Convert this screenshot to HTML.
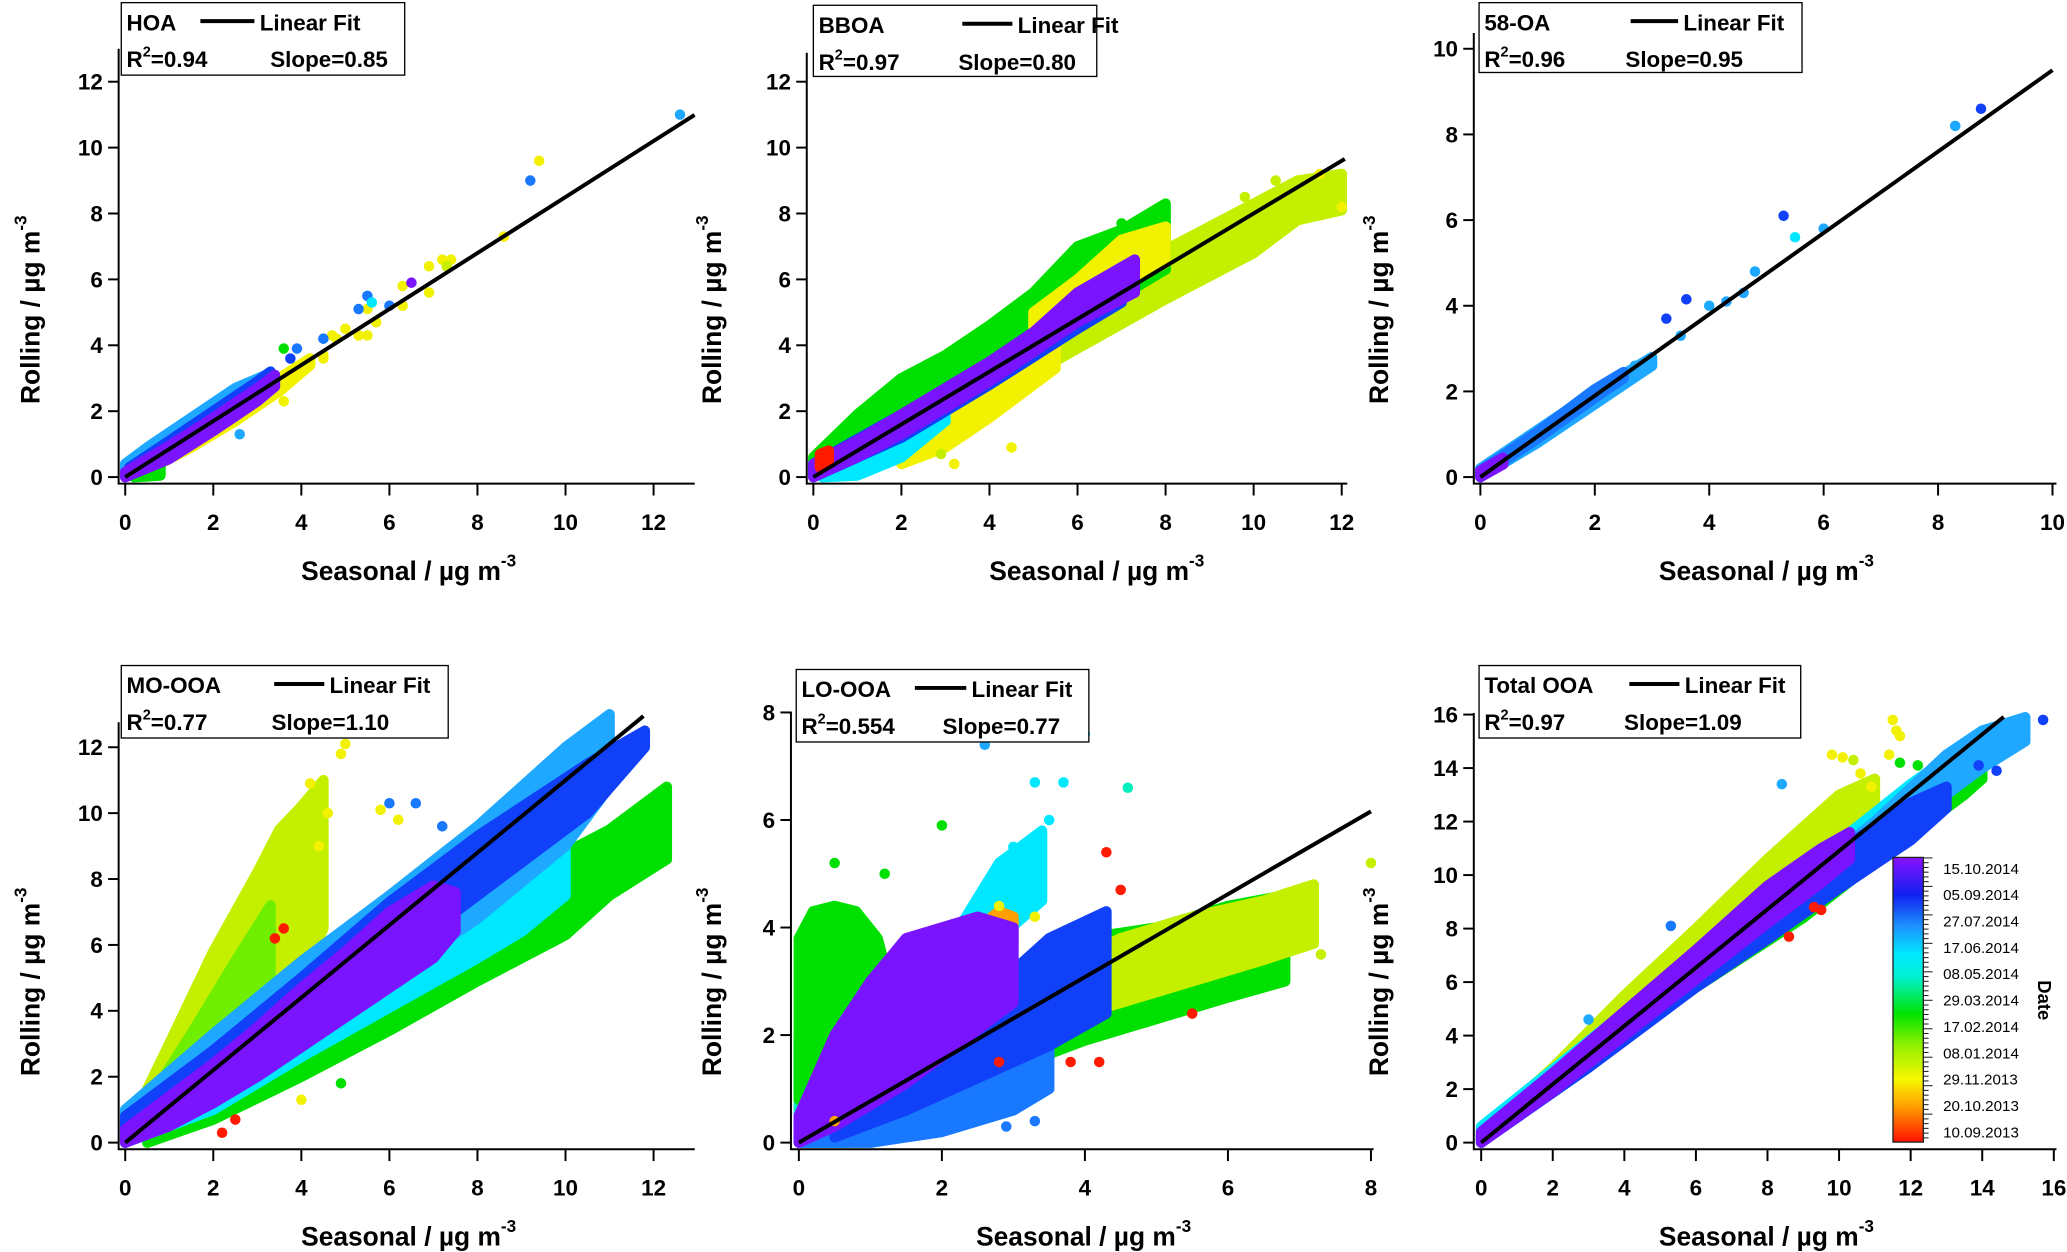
<!DOCTYPE html>
<html><head><meta charset="utf-8"><title>Rolling vs Seasonal</title>
<style>
html,body{margin:0;padding:0;background:#fff;}
svg{display:block;font-family:"Liberation Sans",Arial,sans-serif;}
</style></head>
<body>
<svg id="chart" width="2067" height="1252" viewBox="0 0 1568 950" preserveAspectRatio="none" xmlns="http://www.w3.org/2000/svg">
<defs>
<linearGradient id="cbar" x1="0" y1="1" x2="0" y2="0">
<stop offset="0" stop-color="#ff1000"/>
<stop offset="0.12" stop-color="#ff9a00"/>
<stop offset="0.22" stop-color="#f8f800"/>
<stop offset="0.34" stop-color="#90f000"/>
<stop offset="0.45" stop-color="#00e400"/>
<stop offset="0.58" stop-color="#00f0d0"/>
<stop offset="0.66" stop-color="#00e8ff"/>
<stop offset="0.76" stop-color="#1e90ff"/>
<stop offset="0.87" stop-color="#1020f0"/>
<stop offset="1" stop-color="#8a10ff"/>
</linearGradient>
</defs>
<g id="root"></g>
</svg>
<script>
// palette
const COL = {red:'#ff1a00',orange:'#ffa000',yellow:'#f2f200',ygreen:'#c4f000',lgreen:'#70ee00',green:'#00e000',teal:'#00f0c0',cyan:'#00e8ff',lblue:'#1ea8ff',mblue:'#1878ff',blue:'#1040f8',purple:'#7a14ff'};

// ---------- HOA ----------
const hoaXTicks = [0,2,4,6,8,10,12];
const hoaYTicks = [0,2,4,6,8,10,12];
const hoaBandColors = ['yellow','green','lblue','blue','purple'];
const hoaBandX  = [[0.5,1.5,2.5,3.5,4.2],[0.2,0.8],[0,0.5,1.5,2.5,3.2],[0.1,1,2,3,3.3],[0,1,2,3,3.4]];
const hoaBandLo = [[0.2,0.9,1.7,2.6,3.4],[0,0.05],[0,0.3,1.1,2.0,2.7],[0.05,0.8,1.6,2.5,2.8],[0,0.55,1.4,2.3,2.75]];
const hoaBandHi = [[0.5,1.3,2.2,3.0,3.6],[0.2,0.6],[0.4,0.9,1.8,2.7,3.1],[0.3,1.1,2.0,2.9,3.2],[0.15,0.95,1.8,2.7,3.1]];
const hoaPtX = [4.2,4.5,4.8,5.0,5.3,5.7,6.3,6.9,7.2,7.4,7.3,6.9,6.3,9.4,8.6,5.5,5.5,4.5,3.6,4.7,9.2,5.5,5.3,6.0,4.5,3.9,3.75,12.6,2.6,5.6,6.5,3.6];
const hoaPtY = [3.5,3.7,4.2,4.5,4.3,4.7,5.8,6.4,6.6,6.6,6.4,5.6,5.2,9.6,7.3,4.3,5.1,3.6,2.3,4.3,9.0,5.5,5.1,5.2,4.2,3.9,3.6,11.0,1.3,5.3,5.9,3.9];
const hoaPtC = ['yellow','yellow','yellow','yellow','yellow','yellow','yellow','yellow','yellow','yellow','ygreen','yellow','yellow','yellow','yellow','yellow','yellow','yellow','yellow','yellow','mblue','mblue','mblue','mblue','mblue','mblue','blue','lblue','lblue','cyan','purple','green'];

// ---------- BBOA ----------
const bbXTicks = [0,2,4,6,8,10,12];
const bbYTicks = [0,2,4,6,8,10,12];
const bbBandColors = ['ygreen','yellow','green','cyan','yellow','blue','purple','red'];
const bbBandX  = [[1,2,4,6,8,10,11,12],[2,3,4,5.5],[0,1,2,3,4,5,6,7,8],[0.2,1,2,3],[5,6,7,8],[0,2,4,6,7],[0,1,2,3,4,5,6,7.3],[0.15,0.35]];
const bbBandLo = [[0.4,0.9,2.4,3.9,5.4,6.8,7.8,8.1],[0.4,0.9,1.8,3.3],[0,0.8,1.6,2.3,3.0,3.8,4.7,5.5,6.3],[0,0.05,0.6,1.7],[4.0,4.8,5.8,6.5],[0,1.2,2.8,4.5,5.3],[0,0.6,1.3,2.1,2.9,3.8,4.7,5.6],[0.3,0.4]];
const bbBandHi = [[1.2,2.0,3.7,5.3,6.9,8.3,9.0,9.2],[1.3,2.2,3.0,4.5],[0.6,1.9,3.0,3.7,4.6,5.6,7.0,7.5,8.3],[0.5,1.0,1.7,2.6],[5.0,6.0,7.2,7.6],[0.4,1.9,3.5,5.3,6.2],[0.4,1.1,1.9,2.7,3.5,4.4,5.6,6.6],[0.7,0.8]];
const bbPtX = [7.0,6.4,11.5,12.0,11.8,10.5,9.8,0.8,2.0,3.2,4.5,2.9];
const bbPtY = [7.7,7.2,9.2,8.2,8.9,9.0,8.5,0.1,0.8,0.4,0.9,0.7];
const bbPtC = ['green','green','yellow','yellow','ygreen','ygreen','ygreen','cyan','cyan','yellow','yellow','ygreen'];

// ---------- 58-OA ----------
const ooXTicks = [0,2,4,6,8,10];
const ooYTicks = [0,2,4,6,8,10];
const ooBandColors = ['lblue','mblue','purple'];
const ooBandX  = [[0,1,2,3],[0,1,2,2.5],[0,0.4]];
const ooBandLo = [[0,0.8,1.7,2.6],[0,0.9,1.85,2.3],[0,0.3]];
const ooBandHi = [[0.2,1.1,2.0,2.8],[0.15,1.05,2.05,2.45],[0.15,0.45]];
const ooPtX = [3.25,3.6,4.0,4.3,4.6,4.8,5.3,5.5,6.0,8.3,8.75,3.5,2.7,2.9];
const ooPtY = [3.7,4.15,4.0,4.1,4.3,4.8,6.1,5.6,5.8,8.2,8.6,3.3,2.6,2.7];
const ooPtC = ['blue','blue','lblue','lblue','lblue','lblue','blue','cyan','lblue','lblue','blue','lblue','lblue','lblue'];

// ---------- MO-OOA ----------
const moXTicks = [0,2,4,6,8,10,12];
const moYTicks = [0,2,4,6,8,10,12];
const moBandColors = ['ygreen','lgreen','green','cyan','lblue','blue','purple'];
const moBandX  = [[0.2,1,2,3,3.5,4,4.5],[0.5,1.5,2.5,3.3],[0.5,2,4,6,8,10,11,12.3],[0,2,4,6,8,9,10],[0,2,4,6,8,10,11],[0,2,4,6,8,10.5,11.8],[0,1,2,3,4,5,6,7,7.5]];
const moBandLo = [[0.1,0.9,2.0,3.2,4.0,5.0,6.5],[0.4,1.4,2.6,3.6],[0,0.7,2,3.4,4.9,6.3,7.5,8.6],[0,1,2.6,4.1,5.6,6.4,7.5],[0,1.5,3.2,5,6.8,9,10.8],[0,1.5,3.5,5.5,7.5,10,12],[0,0.5,1.2,2.0,2.9,3.8,4.7,5.6,6.4]];
const moBandHi = [[0.8,3.0,5.8,8.2,9.5,10.2,11.0],[1.2,3.3,5.5,7.2],[0.6,2.0,3.6,5.4,7.2,8.8,9.5,10.8],[0.8,2.7,4.8,6.6,8.3,9,10],[1,3.3,5.5,7.5,9.6,12.0,13.0],[0.8,2.8,5,7.3,9.3,11.5,12.5],[0.4,1.4,2.4,3.5,4.7,5.8,7.0,7.8,7.6]];
const moPtX = [4.6,5.0,4.9,4.4,5.8,6.2,6.0,6.6,7.2,2.5,3.6,3.4,2.2,4.9,12.3,4.0,4.2,3.8];
const moPtY = [10.0,12.1,11.8,9.0,10.1,9.8,10.3,10.3,9.6,0.7,6.5,6.2,0.3,1.8,10.5,1.3,10.9,9.8];
const moPtC = ['yellow','yellow','yellow','yellow','yellow','yellow','mblue','mblue','mblue','red','red','red','red','green','green','yellow','yellow','ygreen'];

// ---------- LO-OOA ----------
const loXTicks = [0,2,4,6,8];
const loYTicks = [0,2,4,6,8];
const loBandColors = ['teal','green','green','ygreen','mblue','cyan','orange','blue','purple'];
const loBandX  = [[0,0.3,0.6,1,1.5],[0,0.2,0.5,0.8,1.1,1.3],[2.3,3,4,5,6,6.8],[3.5,4.5,5.5,6.5,7.2],[0,1,2,3,3.5],[2.2,2.8,3.4],[2.5,2.8,3.0],[0.5,1.5,2.5,3.5,4.3],[0,0.5,1,1.5,2,2.5,3]];
const loBandLo = [[0,0,0,0.3,0.6],[0.8,0.8,1.0,1.3,1.6,1.9],[0.9,1.4,1.9,2.3,2.7,3.0],[2.2,2.6,3.0,3.4,3.7],[0,0,0.2,0.6,1.0],[3.3,3.8,4.5],[3.4,3.5,3.6],[0.1,0.6,1.2,1.8,2.4],[0,0.3,0.7,1.1,1.6,2.1,2.6]];
const loBandHi = [[2.0,2.5,2.2,1.8,1.3],[3.8,4.3,4.4,4.3,3.8,2.8],[2.3,3,3.8,4.0,4.4,4.6],[3.2,3.8,4.2,4.5,4.8],[0.4,1.0,1.5,2.2,2.5],[3.9,5.2,5.8],[4.0,4.3,4.2],[0.6,1.6,2.6,3.8,4.3],[0.5,2.0,3.0,3.8,4.0,4.2,4.0]];
const loPtX = [3.3,3.5,3.7,4.0,2.6,3.0,4.3,4.5,3.8,4.2,5.5,2.8,3.3,2.8,0.5,1.2,2.0,7.3,8.0,3.3,2.9,0.5,4.6];
const loPtY = [6.7,6.0,6.7,7.6,7.4,5.5,5.4,4.7,1.5,1.5,2.4,4.4,4.2,1.5,5.2,5.0,5.9,3.5,5.2,0.4,0.3,0.4,6.6];
const loPtC = ['cyan','cyan','cyan','cyan','lblue','cyan','red','red','red','red','red','yellow','yellow','red','green','green','green','ygreen','ygreen','mblue','mblue','orange','teal'];

// ---------- Total OOA ----------
const toXTicks = [0,2,4,6,8,10,12,14,16];
const toYTicks = [0,2,4,6,8,10,12,14,16];
const toBandColors = ['ygreen','green','cyan','lblue','blue','purple'];
const toBandX  = [[0,2,4,6,8,10,11],[0,3,6,9,11,12.5,13.5,14],[0,3,6,9,12,13.5],[0,4,8,11,13,14,15.2],[0,3,6,8,10,12,13],[0,2,4,6,8,9.5,10.3]];
const toBandLo = [[0,2.1,4.3,6.5,8.7,10.9,12.0],[0,2.9,5.8,8.4,10.5,12,13,13.6],[0.1,3.1,6.1,9.5,12.6,14.2],[0,4,8,11.2,13,14,15],[0,2.8,5.8,7.6,9.5,11.3,12.5],[0,1.9,4.0,6.1,8.2,9.7,10.6]];
const toBandHi = [[0.4,2.8,5.5,8.0,10.6,13.0,13.6],[0.5,3.6,6.8,9.5,12.2,13.6,14.1,14.3],[0.6,3.8,7.0,10.2,13.4,14.8],[0.4,4.6,8.8,12,14.5,15.4,15.9],[0.3,3.4,6.8,8.8,10.9,12.7,13.3],[0.4,2.6,4.9,7.2,9.6,11.0,11.6]];
const toPtX = [9.5,9.3,8.6,11.5,11.6,11.7,9.8,10.1,11.4,10.6,10.9,10.4,8.4,5.3,3.0,15.1,15.7,14.4,13.9,11.3,11.7,12.2];
const toPtY = [8.7,8.8,7.7,15.8,15.4,15.2,14.5,14.4,14.5,13.8,13.3,14.3,13.4,8.1,4.6,15.8,15.8,13.9,14.1,10.9,14.2,14.1];
const toPtC = ['red','red','red','yellow','yellow','yellow','yellow','yellow','yellow','yellow','yellow','ygreen','lblue','mblue','lblue','lblue','blue','blue','blue','blue','green','green'];

// colorbar labels
const cbLabels = ['15.10.2014','05.09.2014','27.07.2014','17.06.2014','08.05.2014','29.03.2014','17.02.2014','08.01.2014','29.11.2013','20.10.2013','10.09.2013'];

const NS='http://www.w3.org/2000/svg';
const root=document.getElementById('root');
function mk(tag,attrs,parent){const e=document.createElementNS(NS,tag);for(const k in attrs)e.setAttribute(k,attrs[k]);(parent||root).appendChild(e);return e;}

function panel(p){
  const g=mk('g',{});
  
  
  const sx=v=>p.x0+v*p.kx, sy=v=>p.y0-v*p.ky;
  p.bandColors.forEach((c,i)=>{
    const xs=p.bandX[i],lo=p.bandLo[i],hi=p.bandHi[i];
    let pts=[];
    xs.forEach((x,j)=>pts.push(sx(x)+','+sy(hi[j])));
    for(let j=xs.length-1;j>=0;j--)pts.push(sx(xs[j])+','+sy(lo[j]));
    const poly=mk('polygon',{points:pts.join(' '),fill:COL[c],stroke:COL[c],'stroke-width':8,'stroke-linejoin':'round'},g);
    
    
  });
  p.ptX.forEach((x,i)=>{
    const c=mk('circle',{cx:sx(x),cy:sy(p.ptY[i]),r:4,fill:COL[p.ptC[i]]},g);
    
    
  });
  const fl=mk('line',{x1:sx(0),y1:sy(0),x2:sx(p.fitEnd),y2:sy(p.fitEnd*p.slope),stroke:'#000','stroke-width':3},g);
  
  
  const ax=mk('path',{d:`M${p.axX},${p.yTop}V${p.axY}H${p.xEnd}`,fill:'none',stroke:'#000','stroke-width':1.5},g);
  
  
  p.xTicks.forEach(v=>{
    mk('line',{x1:sx(v),x2:sx(v),y1:p.axY,y2:p.axY+9,stroke:'#000','stroke-width':1.5},g);
    const t=mk('text',{x:sx(v),y:p.axY+35,'text-anchor':'middle','font-size':17,'font-weight':'bold'},g);
    t.textContent=v;
    
    
  });
  p.yTicks.forEach(v=>{
    mk('line',{x1:p.axX-8,x2:p.axX,y1:sy(v),y2:sy(v),stroke:'#000','stroke-width':1.5},g);
    const t=mk('text',{x:p.axX-12,y:sy(v)+6,'text-anchor':'end','font-size':17,'font-weight':'bold'},g);
    t.textContent=v;
    
    
  });
  const xt=mk('text',{x:p.xtX,y:p.axY+73,'text-anchor':'middle','font-size':20,'font-weight':'bold'},g);
  xt.innerHTML='Seasonal / µg m<tspan dy="-10" font-size="13">-3</tspan>';
  
  
  const yt=mk('text',{x:0,y:0,'text-anchor':'middle','font-size':20,'font-weight':'bold',transform:`translate(${p.ytX},${p.ytY}) rotate(-90)`},g);
  yt.innerHTML='Rolling / µg m<tspan dy="-10" font-size="13">-3</tspan>';
  
  
  const L=p.leg;
  const lg=mk('g',{},g);
  
  
  mk('rect',{x:L[0],y:L[1],width:L[2],height:L[3],fill:'#fff',stroke:'#000','stroke-width':1},lg);
  const n=mk('text',{x:L[0]+4,y:L[1]+21,'font-size':17,'font-weight':'bold'},lg);n.textContent=p.name;
  mk('line',{x1:L[4],x2:L[5],y1:L[1]+14,y2:L[1]+14,stroke:'#000','stroke-width':3},lg);
  const lf=mk('text',{x:L[5]+4,y:L[1]+21,'font-size':17,'font-weight':'bold'},lg);lf.textContent='Linear Fit';
  const r2=mk('text',{x:L[0]+4,y:L[1]+49,'font-size':17,'font-weight':'bold'},lg);
  r2.innerHTML='R<tspan dy="-8" font-size="11">2</tspan><tspan dy="8">='+p.r2+'</tspan>';
  const sl=mk('text',{x:L[6],y:L[1]+49,'font-size':17,'font-weight':'bold'},lg);sl.textContent='Slope='+p.slope.toFixed(2);
}

panel({id:'hoa',name:'HOA',r2:'0.94',slope:0.85,fitEnd:12.93,x0:95,kx:33.4,y0:362,ky:25,axX:90,axY:367,xEnd:527,yTop:37,
  xTicks:hoaXTicks,yTicks:hoaYTicks,bandColors:hoaBandColors,bandX:hoaBandX,bandLo:hoaBandLo,bandHi:hoaBandHi,ptX:hoaPtX,ptY:hoaPtY,ptC:hoaPtC,
  xtX:310,ytX:30,ytY:235,leg:[92,2,215,55,152,193,205]});
panel({id:'bboa',name:'BBOA',r2:'0.97',slope:0.80,fitEnd:12.07,x0:617,kx:33.4,y0:362,ky:25,axX:612,axY:367,xEnd:1022,yTop:40,
  xTicks:bbXTicks,yTicks:bbYTicks,bandColors:bbBandColors,bandX:bbBandX,bandLo:bbBandLo,bandHi:bbBandHi,ptX:bbPtX,ptY:bbPtY,ptC:bbPtC,
  xtX:832,ytX:547,ytY:235,leg:[617,4,215,54,730,768,727]});
panel({id:'oa58',name:'58-OA',r2:'0.96',slope:0.95,fitEnd:10.0,x0:1123,kx:43.4,y0:362,ky:32.5,axX:1118,axY:367,xEnd:1560,yTop:25,
  xTicks:ooXTicks,yTicks:ooYTicks,bandColors:ooBandColors,bandX:ooBandX,bandLo:ooBandLo,bandHi:ooBandHi,ptX:ooPtX,ptY:ooPtY,ptC:ooPtC,
  xtX:1340,ytX:1053,ytY:235,leg:[1122,2,245,53,1237,1273,1233]});
panel({id:'mo-ooa',name:'MO-OOA',r2:'0.77',slope:1.10,fitEnd:11.77,x0:95,kx:33.4,y0:867,ky:25,axX:90,axY:872,xEnd:527,yTop:548,
  xTicks:moXTicks,yTicks:moYTicks,bandColors:moBandColors,bandX:moBandX,bandLo:moBandLo,bandHi:moBandHi,ptX:moPtX,ptY:moPtY,ptC:moPtC,
  xtX:310,ytX:30,ytY:745,leg:[92,505,248,55,208,246,206]});
panel({id:'lo-ooa',name:'LO-OOA',r2:'0.554',slope:0.77,fitEnd:8.0,x0:606,kx:54.25,y0:867,ky:40.8,axX:600,axY:872,xEnd:1042,yTop:540,
  xTicks:loXTicks,yTicks:loYTicks,bandColors:loBandColors,bandX:loBandX,bandLo:loBandLo,bandHi:loBandHi,ptX:loPtX,ptY:loPtY,ptC:loPtC,
  xtX:822,ytX:547,ytY:745,leg:[604,508,222,55,694,733,715]});
panel({id:'total-ooa',name:'Total OOA',r2:'0.97',slope:1.09,fitEnd:14.6,x0:1123.6,kx:27.15,y0:867,ky:20.3,axX:1118,axY:872,xEnd:1560,yTop:541,
  xTicks:toXTicks,yTicks:toYTicks,bandColors:toBandColors,bandX:toBandX,bandLo:toBandLo,bandHi:toBandHi,ptX:toPtX,ptY:toPtY,ptC:toPtC,
  xtX:1340,ytX:1053,ytY:745,leg:[1122,505,244,55,1236,1274,1232]});

// colorbar
const cb=mk('g',{});


mk('rect',{x:1436,y:650.6,width:23,height:216,fill:'url(#cbar)',stroke:'#222','stroke-width':1},cb);
for(let i=0;i<=60;i++){const y=651+i*3.6;if(y>866)break;mk('line',{x1:1459,x2:1459+(i%6===0?7:4),y1:y,y2:y,stroke:'#222','stroke-width':0.8},cb);}
cbLabels.forEach((s,i)=>{
  const y=659+i*20.0;
  if(y>866)return;
  const t=mk('text',{x:1474,y:y+4,'font-size':11.5},cb);
  t.textContent=s;
  
  
});
const dt=mk('text',{x:0,y:0,'font-size':14,'font-weight':'bold','text-anchor':'middle',transform:'translate(1546,759) rotate(90)'},cb);
dt.textContent='Date';


</script>
</body></html>
